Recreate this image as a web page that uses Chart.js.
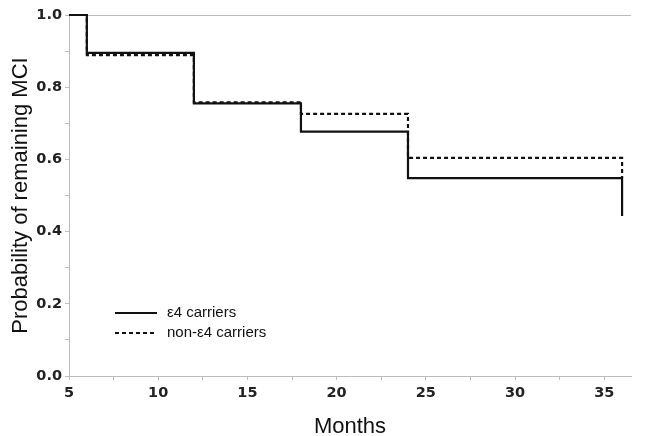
<!DOCTYPE html>
<html>
<head>
<meta charset="utf-8">
<script src="https://cdn.jsdelivr.net/npm/chart.js@4/dist/chart.umd.min.js"></script>
<style>
  html, body { margin: 0; padding: 0; background: #fff; }
  #wrap { width: 646px; height: 436px; }
</style>
</head>
<body>
<div id="wrap"><canvas id="km"></canvas></div>
<script>
// Datos (Kaplan-Meier)
const meses = [5, 6, 12, 18, 24, 36];
const e4Carriers = [1.0, 0.895, 0.755, 0.677, 0.548, 0.443];
const nonE4Carriers = [1.0, 0.889, 0.758, 0.726, 0.604, 0.55];
const etiquetas = ["ε4 carriers", "non-ε4 carriers"];
const ticksX = [5, 10, 15, 20, 25, 30, 35];
const ticksY = [0.0, 0.2, 0.4, 0.6, 0.8, 1.0];

const puntos = (ys) => meses.map((m, i) => ({ x: m, y: ys[i] }));

// Borde superior gris (debajo de las curvas)
const bordeSuperior = {
  id: "bordeSuperior",
  beforeDatasetsDraw(chart) {
    const { ctx, chartArea } = chart;
    ctx.save();
    ctx.strokeStyle = "#bbb";
    ctx.lineWidth = 1;
    ctx.beginPath();
    ctx.moveTo(chartArea.left, chartArea.top + 0.5);
    ctx.lineTo(chartArea.right, chartArea.top + 0.5);
    ctx.stroke();
    ctx.restore();
  }
};

// Leyenda dentro del área de la gráfica (abajo a la izquierda)
const leyendaInterna = {
  id: "leyendaInterna",
  afterDatasetsDraw(chart) {
    const { ctx, chartArea } = chart;
    ctx.save();
    chart.data.datasets.forEach((ds, i) => {
      const y = chartArea.bottom - 63 + i * 20;
      const x0 = chartArea.left + 46;
      ctx.strokeStyle = ds.borderColor;
      ctx.lineWidth = 2;
      ctx.setLineDash(ds.borderDash || []);
      ctx.beginPath();
      ctx.moveTo(x0, y);
      ctx.lineTo(x0 + 42, y);
      ctx.stroke();
      ctx.setLineDash([]);
      ctx.fillStyle = "#111";
      ctx.font = "15px 'Liberation Sans', Arial, sans-serif";
      ctx.textBaseline = "middle";
      ctx.fillText(ds.label, x0 + 52, y);
    });
    ctx.restore();
  }
};

const fuenteTicks = { family: "'DejaVu Sans', Verdana, sans-serif", size: 14.5, weight: "bold" };
const fuenteTitulo = { family: "'Liberation Sans', Arial, sans-serif", size: 22 };

new Chart(document.getElementById("km"), {
  type: "line",
  data: {
    datasets: [
      {
        label: etiquetas[0],
        data: puntos(e4Carriers),
        borderColor: "#111",
        borderWidth: 2.2,
        stepped: true,
        pointRadius: 0,
        fill: false,
        clip: 4
      },
      {
        label: etiquetas[1],
        data: puntos(nonE4Carriers),
        borderColor: "#111",
        borderWidth: 2.2,
        borderDash: [4, 3],
        stepped: true,
        pointRadius: 0,
        fill: false,
        clip: 4
      }
    ]
  },
  options: {
    responsive: true,
    maintainAspectRatio: false,
    animation: false,
    layout: { padding: { top: 15, right: 15, left: 0, bottom: 0 } },
    plugins: {
      legend: { display: false },
      tooltip: { enabled: false }
    },
    scales: {
      x: {
        type: "linear",
        min: 5,
        max: 36.5,
        afterBuildTicks: (axis) => {
          const t = [];
          for (let v = 5; v <= 36.5; v += 2.5) t.push({ value: v });
          axis.ticks = t;
        },
        afterFit: (axis) => { axis.height = 60; },
        ticks: {
          color: "#222",
          font: fuenteTicks,
          autoSkip: false,
          maxRotation: 0,
          padding: 5,
          callback: (v) => (ticksX.includes(v) ? String(v) : "")
        },
        grid: { drawOnChartArea: false, tickLength: 4, color: "#bbb" },
        border: { color: "#bbb", width: 1 },
        title: { display: true, text: "Months", color: "#111", font: fuenteTitulo, padding: { top: 8, bottom: -4 } }
      },
      y: {
        min: 0,
        max: 1,
        afterBuildTicks: (axis) => {
          const t = [];
          for (let k = 0; k <= 10; k++) t.push({ value: k / 10 });
          axis.ticks = t;
        },
        afterFit: (axis) => { axis.width = 69; },
        ticks: {
          color: "#222",
          font: fuenteTicks,
          autoSkip: false,
          padding: 3,
          callback: (v) => {
            const r = Math.round(v * 10) / 10;
            return ticksY.some((t) => Math.abs(t - r) < 1e-9) ? r.toFixed(1) : "";
          }
        },
        grid: { drawOnChartArea: false, tickLength: 4, color: "#bbb" },
        border: { color: "#bbb", width: 1 },
        title: { display: true, text: "Probability of remaining MCI", color: "#111", font: fuenteTitulo, padding: { top: 8, bottom: 0 } }
      }
    }
  },
  plugins: [bordeSuperior, leyendaInterna]
});
</script>
</body>
</html>
